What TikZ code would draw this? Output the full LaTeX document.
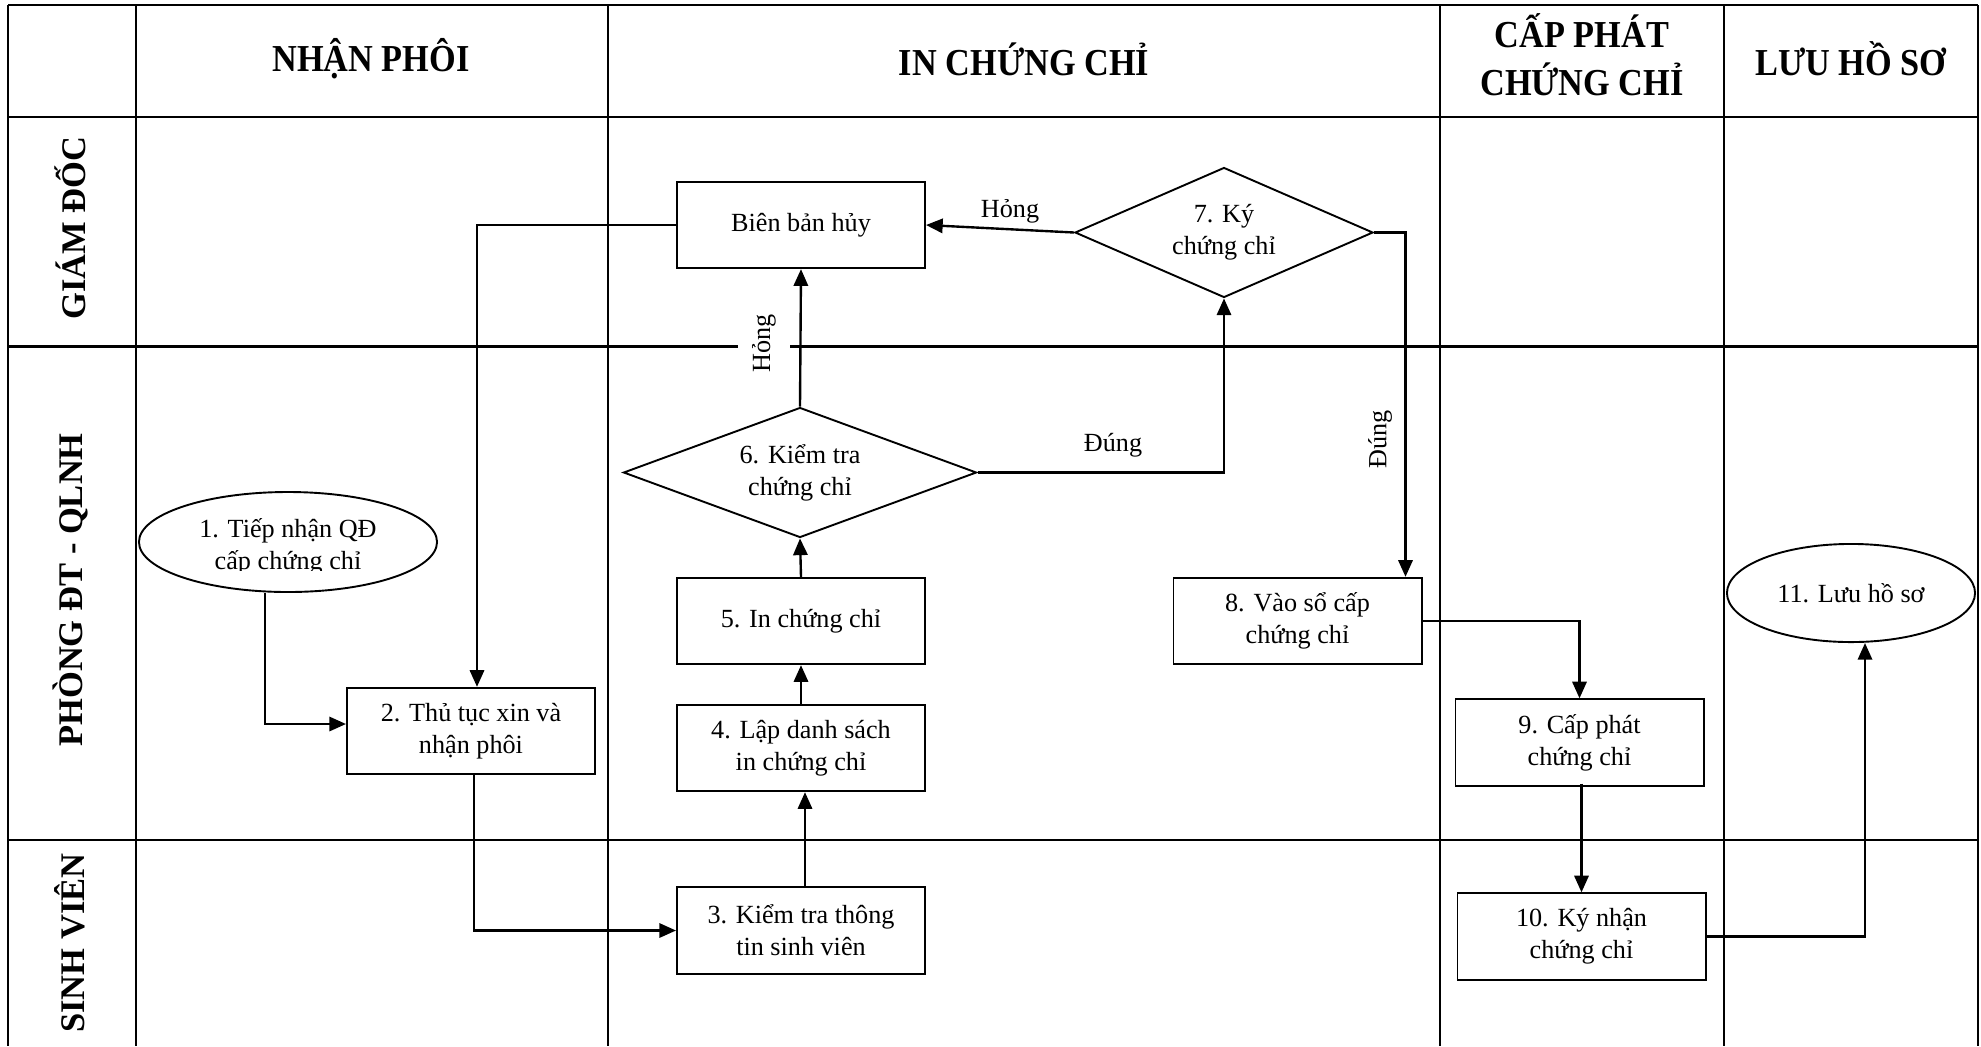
\documentclass[tikz,border=0pt]{standalone}
\usepackage{fontspec}
\setmainfont{Liberation Serif}
\newfontfamily\hdfont{Liberation Serif}[FakeStretch=0.9]
\usetikzlibrary{shapes.geometric,arrows.meta,calc}
\newcommand\txtfont{\fontsize{11}{13.5}\selectfont}
\newcommand\hdrfont{\hdfont\bfseries\fontsize{16}{20}\selectfont}
\newcommand\rowfont{\bfseries\fontsize{14.5}{16}\selectfont}
\begin{document}
\begin{tikzpicture}[x=0.42pt,y=-0.42pt,
  tbl/.style={line width=1pt},
  box/.style={draw, line width=0.8pt, minimum width=104.2pt, minimum height=36.3pt, inner sep=0pt, align=center, font=\txtfont},
  dec/.style={draw, diamond, aspect=2.7, inner sep=0pt, line width=0.8pt, align=center, font=\txtfont},
  oval/.style={draw, ellipse, inner sep=0pt, line width=0.8pt},
  arr/.style={line width=1pt, -{Triangle[length=7pt,width=6pt]}},
  lbl/.style={font=\txtfont, inner sep=1pt},
  hdr/.style={font=\hdrfont, align=center},
  rowhdr/.style={font=\rowfont, rotate=90}]
\useasboundingbox (0,0) rectangle (1981,1046);
% table
\draw[tbl] (8,5) -- (1978,5);
\draw[tbl] (8,117) -- (1978,117);
\draw[tbl] (8,346.5) -- (1978,346.5);
\draw[tbl] (8,840) -- (1978,840);
\foreach \xx in {8,136,608,1440,1724,1978} \draw[tbl] (\xx,5) -- (\xx,1046);
% headers
\node[hdr] (h1) at (371,59) {NHẬN PHÔI};
\node[hdr] (h2) at (1024,59) {IN CHỨNG CHỈ};
\node[hdr] (h3) at (1582,55) {CẤP PHÁT\\CHỨNG CHỈ};
\node[hdr] (h4) at (1851,59) {LƯU HỒ SƠ};
\node[rowhdr] (r1) at (70,228) {GIÁM ĐỐC};
\node[rowhdr] (r2) at (70,590) {PHÒNG ĐT - QLNH};
\node[rowhdr] (r3) at (70,943) {SINH VIÊN};
% nodes
\node[oval, minimum width=125.2pt, minimum height=42pt] (e1) at (288,542) {};
\begin{scope}
\clip (130,480) rectangle (450,570);
\node[font=\txtfont, align=center, inner sep=0pt] (t1) at (288,547) {1. Tiếp nhận QĐ\\cấp chứng chỉ};
\end{scope}
\node[box] (b2) at (471,731) {2. Thủ tục xin và\\nhận phôi};
\node[box] (b3) at (801,930.5) {3. Kiểm tra thông\\tin sinh viên};
\node[box] (b4) at (801,748) {4. Lập danh sách\\in chứng chỉ};
\node[box] (b5) at (801,621) {5. In chứng chỉ};
\node[dec, minimum width=148.3pt, minimum height=54.6pt] (d6) at (800,472.5) {6. Kiểm tra\\chứng chỉ};
\node[box] (bbh) at (801,225) {Biên bản hủy};
\node[dec, minimum width=125.2pt, minimum height=54.6pt] (d7) at (1224,232.5) {7. Ký\\chứng chỉ};
\node[box] (b8) at (1297.5,621) {8. Vào sổ cấp\\chứng chỉ};
\node[box] (b9) at (1579.5,742.5) {9. Cấp phát\\chứng chỉ};
\node[box] (b10) at (1581.5,936.5) {10. Ký nhận\\chứng chỉ};
\node[oval, minimum width=104.2pt, minimum height=41.2pt, font=\txtfont] (e11) at (1851,593) {11. Lưu hồ sơ};
% connectors
\draw[arr] ($(e1.south)+(-23,0)$) |- ($(b2.west)+(0,-7)$);
\draw[arr] (bbh.west) -| ($(b2.north)+(6,0)$);
\draw[arr] ($(b2.south)+(3,0)$) |- (b3.west);
\draw[arr] ($(b3.north)+(4,0)$) -- ($(b4.south)+(4,0)$);
\draw[arr] (b4.north) -- (b5.south);
\draw[arr] (b5.north) -- (d6.south);
\draw[arr] (d6.north) -- (bbh.south);
\node[lbl, rotate=90, fill=white, inner xsep=1pt, inner ysep=6pt] (l1) at (764,343) {Hỏng};
\draw[arr] (d7.west) -- (bbh.east);
\node[lbl] (l2) at (1010,211) {Hỏng};
\draw[arr] (d6.east) -| (d7.south);
\node[lbl] (l3) at (1113,445) {Đúng};
\draw[arr] (d7.east) -| ($(b8.north)+(108,0)$);
\node[lbl, rotate=90] (l4) at (1380,439) {Đúng};
\draw[arr] (b8.east) -| (b9.north);
\draw[arr] ($(b9.south)+(2,-3)$) -- (b10.north);
\draw[arr] (b10.east) -| ($(e11.south)+(14,0)$);
\end{tikzpicture}
\end{document}
